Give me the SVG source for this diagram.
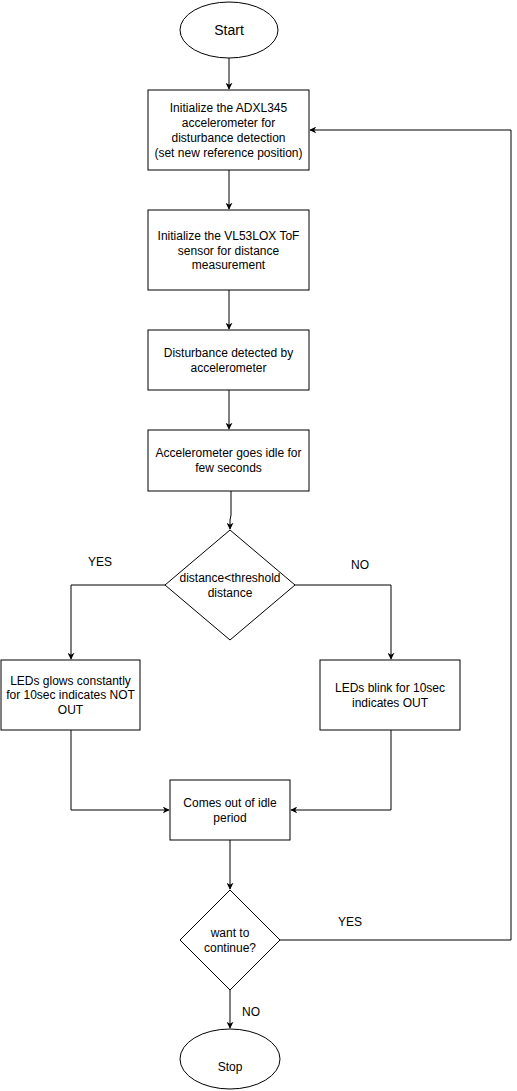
<svg xmlns="http://www.w3.org/2000/svg" width="517" height="1091" viewBox="0 0 517 1091">
<style>
.n{fill:#fff;stroke:#000;stroke-width:1}
.t{font-family:"Liberation Sans",Arial,sans-serif;font-size:12px;fill:#000;text-anchor:middle;dominant-baseline:central}
.c{fill:none;stroke:#000;stroke-width:1}
</style>
<defs>
<marker id="a" viewBox="0 0 10 10" refX="9" refY="5" markerWidth="7" markerHeight="7" markerUnits="userSpaceOnUse" orient="auto">
<path d="M0,0 L10,5 L0,10 L3,5 Z" fill="#000"/>
</marker>
</defs>
<rect width="517" height="1091" fill="#fff"/>
<g id="connectors">
<path class="c" d="M229,58 V89" marker-end="url(#a)"/>
<path class="c" d="M229,170 V209" marker-end="url(#a)"/>
<path class="c" d="M229,290 V329" marker-end="url(#a)"/>
<path class="c" d="M229,390 V429" marker-end="url(#a)"/>
<path class="c" d="M231,491 V515 L230,520 V529" marker-end="url(#a)"/>
<path class="c" d="M165,585 H71 V659" marker-end="url(#a)"/>
<path class="c" d="M295,585 H391 V659" marker-end="url(#a)"/>
<path class="c" d="M71,730 V810 H169" marker-end="url(#a)"/>
<path class="c" d="M391,730 V810 H291" marker-end="url(#a)"/>
<path class="c" d="M230,840 V889" marker-end="url(#a)"/>
<path class="c" d="M280,940 H511 V130 H310" marker-end="url(#a)"/>
<path class="c" d="M230,990 V1028" marker-end="url(#a)"/>
<text class="t" x="100" y="562">YES</text>
<text class="t" x="360" y="565">NO</text>
<text class="t" x="350" y="922">YES</text>
<text class="t" x="251" y="1012">NO</text>
</g>
<g id="start">
<ellipse class="n" cx="229" cy="30" rx="49" ry="28"/>
<text class="t" x="229" y="30" style="font-size:14px">Start</text>
</g>
<g id="init-adxl">
<rect class="n" x="148" y="90" width="161" height="80"/>
<text class="t" x="228.5" y="108">Initialize the ADXL345</text>
<text class="t" x="228.5" y="123">accelerometer for</text>
<text class="t" x="228.5" y="138">disturbance detection</text>
<text class="t" x="228.5" y="153">(set new reference position)</text>
</g>
<g id="init-vl53">
<rect class="n" x="148" y="210" width="161" height="80"/>
<text class="t" x="228.5" y="236">Initialize the VL53LOX ToF</text>
<text class="t" x="228.5" y="251">sensor for distance</text>
<text class="t" x="228.5" y="265">measurement</text>
</g>
<g id="disturbance">
<rect class="n" x="148" y="330" width="161" height="60"/>
<text class="t" x="228.5" y="353">Disturbance detected by</text>
<text class="t" x="228.5" y="368">accelerometer</text>
</g>
<g id="idle">
<rect class="n" x="148" y="430" width="161" height="61"/>
<text class="t" x="228.5" y="453">Accelerometer goes idle for</text>
<text class="t" x="228.5" y="468">few seconds</text>
</g>
<g id="decision-distance">
<path class="n" d="M230,530 L295,585 L230,640 L165,585 Z"/>
<text class="t" x="230" y="578">distance&lt;threshold</text>
<text class="t" x="230" y="593">distance</text>
</g>
<g id="leds-glow">
<rect class="n" x="1" y="660" width="139" height="70"/>
<text class="t" x="70.5" y="681">LEDs glows constantly</text>
<text class="t" x="70.5" y="695">for 10sec indicates NOT</text>
<text class="t" x="70.5" y="710">OUT</text>
</g>
<g id="leds-blink">
<rect class="n" x="320" y="660" width="140" height="70"/>
<text class="t" x="390" y="688">LEDs blink for 10sec</text>
<text class="t" x="390" y="703">indicates OUT</text>
</g>
<g id="out-of-idle">
<rect class="n" x="170" y="780" width="120" height="60"/>
<text class="t" x="230" y="803">Comes out of idle</text>
<text class="t" x="230" y="818">period</text>
</g>
<g id="decision-continue">
<path class="n" d="M230,890 L280,940 L230,990 L180,940 Z"/>
<text class="t" x="230" y="933">want to</text>
<text class="t" x="230" y="948">continue?</text>
</g>
<g id="stop">
<ellipse class="n" cx="230" cy="1059" rx="50" ry="30"/>
<text class="t" x="230" y="1067">Stop</text>
</g>
</svg>
